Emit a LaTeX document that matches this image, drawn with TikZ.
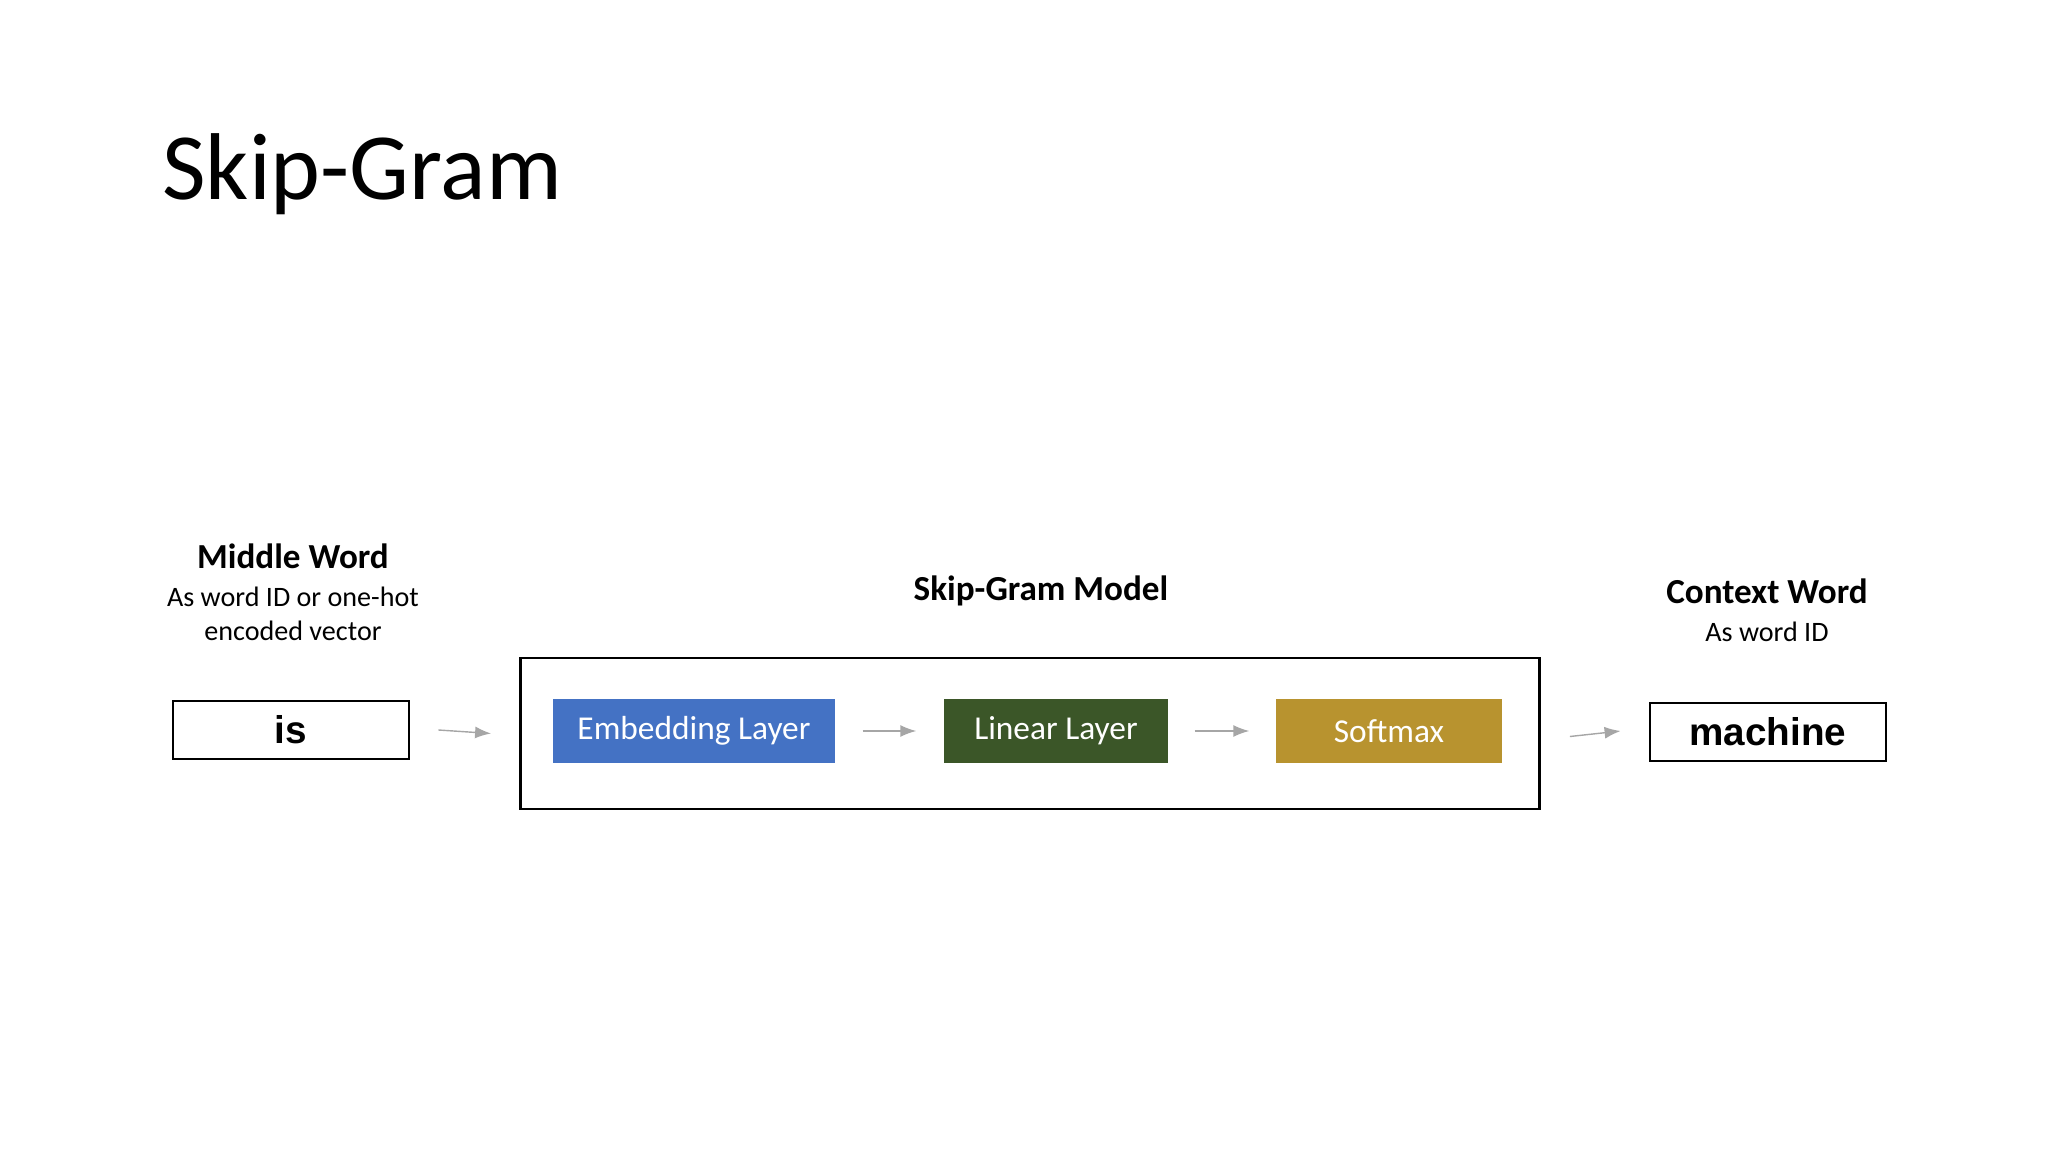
\documentclass[tikz,border=0pt]{standalone}
\usepackage{fontspec}
\setmainfont{Carlito}
\newfontfamily\arialfont{Liberation Sans}
\usepackage{tikz}
\usetikzlibrary{arrows.meta, positioning, fit}

\definecolor{embblue}{HTML}{4472C4}
\definecolor{lingreen}{HTML}{3B5628}
\definecolor{softgold}{HTML}{B8932F}

\begin{document}
\begin{tikzpicture}[
                word/.style={draw, thick, minimum width=2.36cm, minimum height=0.58cm, font=\arialfont\bfseries\fontsize{11pt}{13pt}\selectfont},
                layer/.style={minimum height=0.64cm, text=white, font=\fontsize{9.5pt}{11pt}\selectfont},
                head/.style={font=\bfseries\fontsize{10pt}{12pt}\selectfont},
                sub/.style={font=\fontsize{8pt}{9.5pt}\selectfont, align=center},
                arrow/.style={-{Latex[length=1.6mm, width=1.2mm]}, gray!70, thin}
            ]
            \useasboundingbox (0,0) rectangle (20.48,-11.52);

            % Title
            \node[anchor=west, font=\fontsize{27pt}{32pt}\selectfont] (title) at (1.5,-1.74) {Skip-Gram};

            % Input and output words
            \node[word] (is) at (2.91,-7.30) {is};
            \node[word] (machine) at (17.68,-7.32) {machine};

            % Model
            \node[draw, thick, minimum width=10.19cm, minimum height=1.51cm] (model) at (10.30,-7.335) {};
            \node[layer, fill=embblue, minimum width=2.82cm] (emb) at (6.94,-7.31) {Embedding Layer};
            \node[layer, fill=lingreen, minimum width=2.24cm] (lin) at (10.56,-7.31) {Linear Layer};
            \node[layer, fill=softgold, minimum width=2.26cm] (soft) at (13.89,-7.31) {Softmax};

            % Labels
            \node[head] (midlbl) at (2.93,-5.56) {Middle Word};
            \node[sub] (midsub) at (2.93,-6.14) {As word ID or one-hot\\encoded vector};
            \node[head] (modlbl) at (10.41,-5.91) {Skip-Gram Model};
            \node[head] (ctxlbl) at (17.67,-5.91) {Context Word};
            \node[sub] (ctxsub) at (17.67,-6.32) {As word ID};

            % Arrows
            \draw[arrow] ([xshift=2.8mm]is.east) -- ([xshift=-2.8mm]model.west);
            \draw[arrow] ([xshift=2.7mm]emb.east) -- ([xshift=-2.7mm]lin.west);
            \draw[arrow] ([xshift=2.6mm]lin.east) -- ([xshift=-2.6mm]soft.west);
            \draw[arrow] ([xshift=2.9mm,yshift=-0.3mm]model.east) -- ([xshift=-2.8mm,yshift=0.1mm]machine.west);
\end{tikzpicture}
\end{document}
